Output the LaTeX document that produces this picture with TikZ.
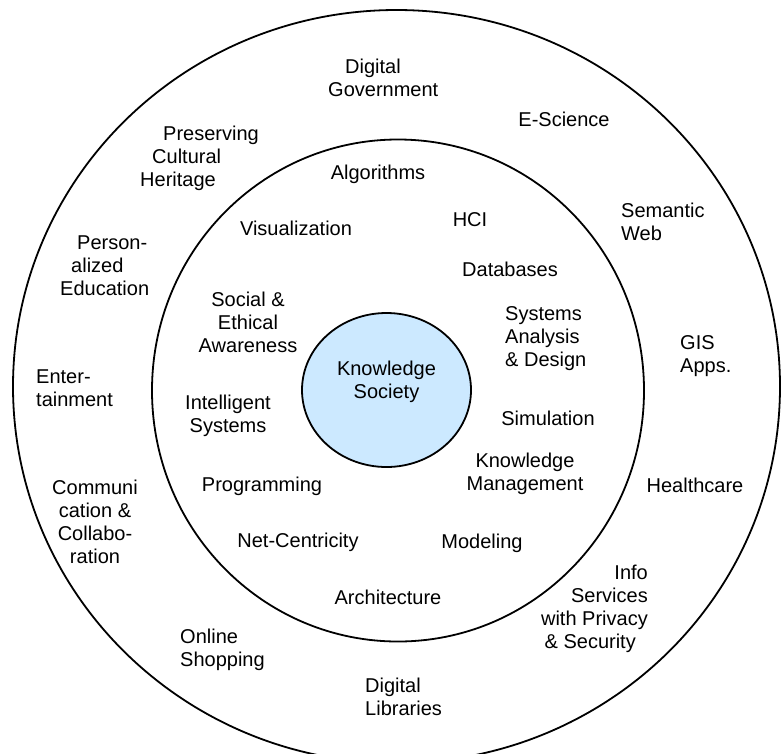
\documentclass[tikz,border=0pt]{standalone}
\usepackage{fontspec}
\setmainfont{Liberation Sans}
\definecolor{coreblue}{RGB}{204,233,255}
\begin{document}
\begin{tikzpicture}[x=1pt,y=-1pt,
    ring/.style={line width=1.8pt},
    lbl/.style={font=\fontsize{20}{23}\selectfont, inner sep=0pt, align=center}]
    \useasboundingbox (0,0) rectangle (781,753);
    \clip (0,0) rectangle (781,753);

    % Ringe
    \draw[ring] (396.5,386.5) ellipse (383.5 and 376.5);
    \draw[ring] (398,390.5) ellipse (246 and 251);
    \draw[ring, fill=coreblue] (386.5,390) ellipse (84.5 and 77);
    \node[lbl] (core) at (386.5,382) {Knowledge\\Society};

    % innerer Ring
    \node[lbl] (algorithms) at (378,174) {Algorithms};
    \node[lbl] (visual) at (296,228) {Visualization};
    \node[lbl] (hci) at (470,220) {HCI};
    \node[lbl] (databases) at (510,269) {Databases};
    \node[lbl] (ethics) at (248,322) {Social \&\\Ethical\\Awareness};
    \node[lbl, align=left, anchor=west] (sad) at (505,339) {Systems\\Analysis\\\& Design};
    \node[lbl] (intsys) at (228,416) {Intelligent\\Systems};
    \node[lbl] (simulation) at (548,418) {Simulation};
    \node[lbl] (km) at (525,474) {Knowledge\\Management};
    \node[lbl] (prog) at (262,486) {Programming};
    \node[lbl] (netc) at (298,542) {Net-Centricity};
    \node[lbl] (modeling) at (482,543) {Modeling};
    \node[lbl] (arch) at (388,597) {Architecture};

    % aeusserer Ring
    \node[lbl, align=left, anchor=west] (digigov) at (328,78) {\hspace*{17pt}Digital\\Government};
    \node[lbl] (escience) at (564,119) {E-Science};
    \node[lbl, align=left, anchor=west] (heritage) at (140,158) {\hspace*{23pt}Preserving\\\hspace*{12pt}Cultural\\Heritage};
    \node[lbl, align=left, anchor=west] (semweb) at (621,222) {Semantic\\Web};
    \node[lbl, align=left, anchor=west] (educ) at (60,266) {\hspace*{17pt}Person-\\\hspace*{11pt}alized\\Education};
    \node[lbl, align=left, anchor=west] (gis) at (680,356) {GIS\\Apps.};
    \node[lbl, align=left, anchor=west] (entertain) at (36,388) {Enter-\\tainment};
    \node[lbl] (health) at (695,485) {Healthcare};
    \node[lbl] (collab) at (95,522) {Communi\\cation \&\\Collabo-\\ration};
    \node[lbl, align=right, anchor=east] (infosec) at (648,609) {Info\\Services\\with Privacy\\\& Security\hspace*{12pt}};
    \node[lbl, align=left, anchor=west] (shop) at (180,650) {Online\\Shopping};
    \node[lbl, align=left, anchor=west] (diglib) at (365,697) {Digital\\Libraries};
\end{tikzpicture}
\end{document}
